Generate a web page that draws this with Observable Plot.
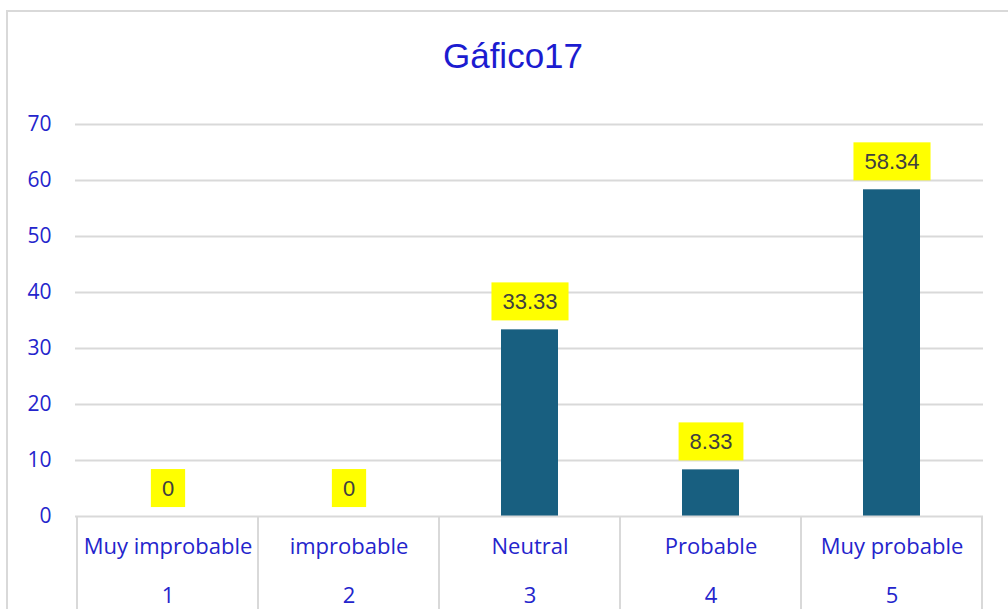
<!DOCTYPE html>
<html><head><meta charset="utf-8">
<script src="https://cdn.jsdelivr.net/npm/d3@7"></script>
<script src="https://cdn.jsdelivr.net/npm/@observablehq/plot@0.6"></script>
<style>
body{margin:0;background:#fff;width:1008px;height:609px;overflow:hidden;position:relative;font-family:"Open Sans",sans-serif}
#frame{position:absolute;left:6px;top:10px;width:1010px;height:610px;border:2px solid #d9d9d9;box-sizing:border-box}
#title{position:absolute;left:0;top:36px;width:1026px;text-align:center;font-family:"Liberation Sans",Arial,sans-serif;font-size:35px;color:#1c1cd0}
#chart{position:absolute;left:0;top:0}
</style></head>
<body>
<div id="frame"></div>
<div id="title">Gáfico17</div>
<div id="chart"></div>
<script>
const categories = ["Muy improbable","improbable","Neutral","Probable","Muy probable"];
const codes = ["1","2","3","4","5"];
const values = [0, 0, 33.33, 8.33, 58.34];
const valueLabels = ["0","0","33.33","8.33","58.34"];
const yTicks = [0,10,20,30,40,50,60,70];

const data = categories.map((c,i)=>({cat:c, code:codes[i], value:values[i], label:valueLabels[i]}));
const blue = "#2424cc";

const plot = Plot.plot({
  width: 1008, height: 609,
  marginLeft: 75, marginRight: 25, marginTop: 124, marginBottom: 93,
  style: {fontFamily: "'Open Sans', sans-serif", background: "transparent"},
  x: {domain: categories, padding: 0, axis: null},
  y: {domain: [0,70], ticks: yTicks, axis: null},
  marks: [
    Plot.gridY(yTicks.filter(t=>t>0), {stroke:"#d9d9d9", strokeOpacity:1, strokeWidth:2}),
    Plot.axisY(yTicks, {tickSize:0, tickPadding:24, fill: blue, fontSize: 21, textAnchor:"end", label: null}),
    Plot.barY(data, {x:"cat", y:"value", fill:"#185f80", insetLeft:62, insetRight:62}),
    Plot.ruleY([0], {stroke:"#d9d9d9", strokeWidth:2}),
    Plot.text(data, {x:"cat", y:"value", text:"label", dy:-28, fill:"#404040", fontSize:22, fontFamily:"'Liberation Sans', Arial, sans-serif", ariaLabel:"vlabel"}),
    Plot.text(data, {x:"cat", text:"cat", frameAnchor:"bottom", dy:37, fill: blue, fontSize:22}),
    Plot.text(data, {x:"cat", text:"code", frameAnchor:"bottom", dy:86, fill: blue, fontSize:22}),
  ]
});
document.getElementById("chart").appendChild(plot);

// category separators from the band scale
const xs = plot.scale("x");
const bw = xs.bandwidth;
const edges = categories.map(c=>xs.apply(c)).concat([xs.apply(categories[categories.length-1]) + bw]);
const yBase = plot.scale("y").apply(0);
const svg = d3.select(plot);
svg.append("g").selectAll("line").data(edges).join("line")
  .attr("x1", d=>d).attr("x2", d=>d).attr("y1", yBase).attr("y2", 609)
  .attr("stroke", "#d9d9d9").attr("stroke-width", 2);

// yellow boxes behind value labels
let texts = svg.selectAll("g").filter(function(){
  return this.getAttribute("aria-label") === "vlabel";
}).selectAll("text");
if (texts.empty()) {
  svg.selectAll("g").each(function(){
    const t = d3.select(this).selectChildren("text");
    if (!t.empty() && t.nodes().length === valueLabels.length && t.nodes().every((n,i)=>n.textContent===valueLabels[i])) texts = t;
  });
}
texts.each(function(){
  const node = this;
  const b = node.getBBox();
  const padX = 11, h = 38;
  const cy = b.y + b.height/2;
  const r = d3.select(node.parentNode).insert("rect", () => node)
    .attr("x", b.x - padX).attr("y", cy - h/2)
    .attr("width", b.width + 2*padX).attr("height", h)
    .attr("fill", "#ffff00");
  const tr = node.getAttribute("transform");
  if (tr) r.attr("transform", tr);
});
</script>
</body></html>
